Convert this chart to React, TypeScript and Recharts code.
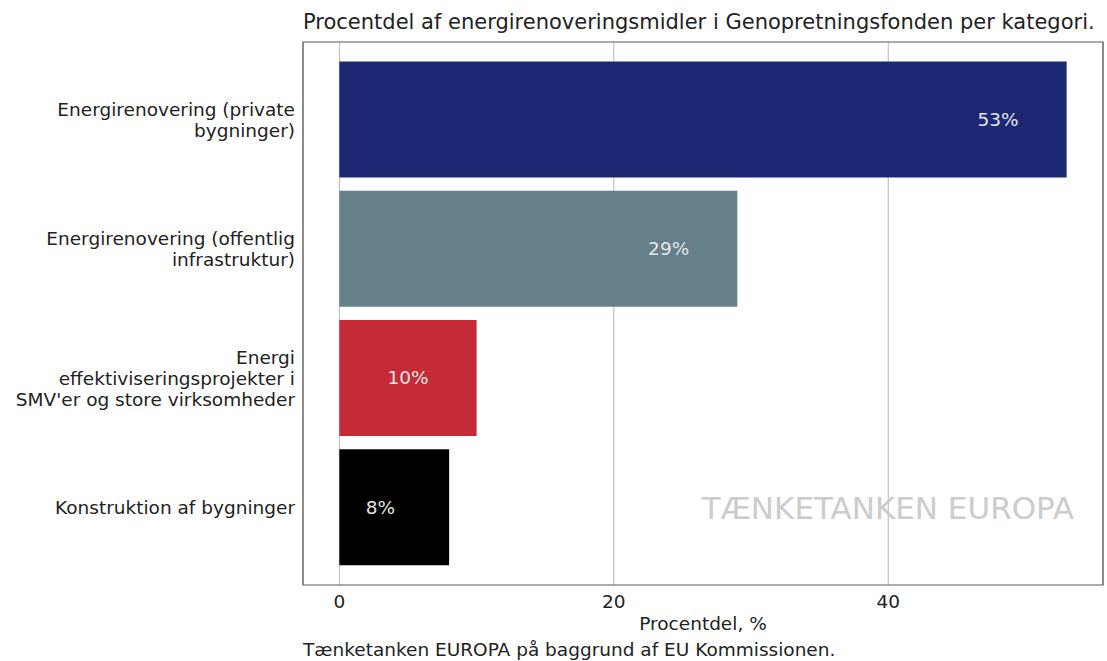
import { BarChart, Bar, XAxis, YAxis, CartesianGrid, Cell, LabelList, ReferenceArea } from 'recharts';

const categories = [
  'Energirenovering (private\nbygninger)',
  'Energirenovering (offentlig\ninfrastruktur)',
  "Energi\neffektiviseringsprojekter i\nSMV'er og store virksomheder",
  'Konstruktion af bygninger'
];
const values = [53, 29, 10, 8];
const colors = ['#1c2874', '#65808a', '#c42b37', '#000000'];
const xTicks = [0, 20, 40];

const FONT = '"DejaVu Sans", sans-serif';
const FRAME = '#5a5a5a';

const data = categories.map((name, i) => ({ name, value: values[i] }));
const frameEnd = data.length - 1;

function CategoryTick(props: any) {
  const { x, y, payload } = props;
  const lines = String(payload.value).split('\n');
  const lh = 21;
  const start = -((lines.length - 1) * lh) / 2;
  return (
    <text x={x} y={y} textAnchor="end" fontSize={18.5} fill="#222" fontFamily={FONT}>
      {lines.map((l, i) => (
        <tspan key={i} x={x} y={y + start + i * lh} dy="0.35em">{l}</tspan>
      ))}
    </text>
  );
}

function ValueLabel(props: any) {
  const { x, y, width, height, value } = props;
  // label sits 5 units in from the bar end
  const cx = x + (width * (value - 5)) / value;
  return (
    <text x={cx} y={y + height / 2} dy="0.35em" textAnchor="middle" fontSize={18.5} fill="#e6e6e6" fontFamily={FONT}>
      {value}%
    </text>
  );
}

export default function App() {
  return (
    <div style={{ position: 'absolute', left: 0, top: 0, width: 1107, height: 661, fontFamily: FONT, background: '#fff' }}>
      <div style={{ position: 'absolute', left: 303, top: 8, fontSize: 21, lineHeight: '28px', color: '#222', whiteSpace: 'nowrap' }}>
        Procentdel af energirenoveringsmidler i Genopretningsfonden per kategori.
      </div>
      <BarChart
        width={1107}
        height={661}
        data={data}
        layout="vertical"
        barCategoryGap="5%"
        margin={{ top: 42, right: 4, left: 0, bottom: 36 }}
      >
        <CartesianGrid horizontal={false} stroke="#b5b5b5" strokeWidth={1} />
        <XAxis
          type="number"
          domain={[-2.65, 55.65]}
          ticks={xTicks}
          allowDataOverflow
          height={40}
          axisLine={false}
          tickLine={false}
          tickSize={0}
          tickMargin={10}
          tick={{ fontSize: 18.5, fill: '#222', fontFamily: FONT }}
        />
        <YAxis
          type="category"
          dataKey="name"
          width={303}
          padding={{ top: 13, bottom: 13 }}
          axisLine={false}
          tickLine={false}
          tick={<CategoryTick />}
          tickSize={0}
          tickMargin={8}
          interval={0}
        />
        <YAxis yAxisId="frame" type="number" domain={[0, frameEnd]} allowDataOverflow hide />
        <Bar dataKey="value" isAnimationActive={false}>
          {data.map((d, i) => (
            <Cell key={d.name} fill={colors[i]} />
          ))}
          <LabelList dataKey="value" content={<ValueLabel />} />
        </Bar>
        <ReferenceArea
          yAxisId="frame"
          x1={-2.65}
          x2={55.65}
          y1={0}
          y2={frameEnd}
          fill="none"
          fillOpacity={0}
          stroke={FRAME}
          strokeWidth={1.2}
          ifOverflow="visible"
        />
      </BarChart>
      <div style={{ position: 'absolute', right: 33, top: 489, fontSize: 31, lineHeight: '38px', color: '#cccccc', whiteSpace: 'nowrap' }}>
        TÆNKETANKEN EUROPA
      </div>
      <div style={{ position: 'absolute', left: 303, width: 800, textAlign: 'center', top: 612, fontSize: 18.5, lineHeight: '24px', color: '#222' }}>
        Procentdel, %
      </div>
      <div style={{ position: 'absolute', left: 303, top: 638, fontSize: 18.5, lineHeight: '24px', color: '#222', whiteSpace: 'nowrap' }}>
        Tænketanken EUROPA på baggrund af EU Kommissionen.
      </div>
    </div>
  );
}
